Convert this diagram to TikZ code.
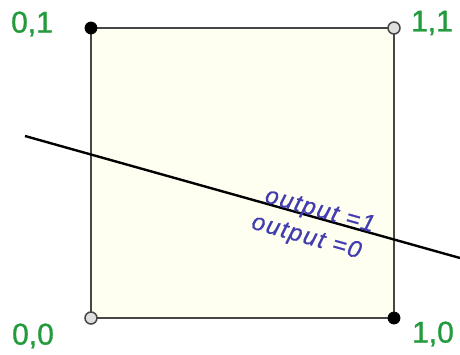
\documentclass[tikz,border=0pt]{standalone}
\usepackage{fontspec}
\setmainfont{Liberation Sans}
\definecolor{cornergreen}{RGB}{35,155,60}
\definecolor{outblue}{RGB}{65,60,175}
\definecolor{cream}{RGB}{254,254,241}
\definecolor{edgegray}{RGB}{70,70,70}
\begin{document}
\begin{tikzpicture}[x=1pt, y=-1pt,
  corner/.style={font=\fontsize{30}{30}\selectfont\addfontfeatures{FakeBold=1}, text=cornergreen, inner sep=0pt},
  outtext/.style={font=\fontsize{24}{24}\selectfont\itshape\addfontfeatures{LetterSpace=7,FakeBold=0.8}, text=outblue, inner sep=0pt, sloped, anchor=base},
  hot/.style={circle, fill=black, draw=black, line width=0.8pt, inner sep=0pt, minimum size=12pt},
  cold/.style={circle, fill=gray!25, draw=edgegray, line width=1.5pt, inner sep=0pt, minimum size=12pt}]
\useasboundingbox (0,0) rectangle (460,354);
% unit square
\coordinate (p00) at (91,318);
\coordinate (p10) at (394,318);
\coordinate (p11) at (394,28);
\coordinate (p01) at (91,28);
\draw[edgegray, line width=2pt, fill=cream] (p00) -- (p10) -- (p11) -- (p01) -- cycle;
% decision line
\coordinate (l1) at (25,136);
\coordinate (l2) at (460,258);
\draw[black, line width=2.4pt] (l1) -- (l2)
  node[outtext, pos=0.673, yshift=1pt] (out1) {output =1}
  node[outtext, pos=0.66, yshift=-28pt] (out0) {output =0};
% corner points
\node[hot] (d01) at (p01) {};
\node[cold] (d11) at (p11) {};
\node[cold] (d00) at (p00) {};
\node[hot] (d10) at (p10) {};
\node[corner] (t01) at (32,24) {0,1};
\node[corner] (t11) at (432,23) {1,1};
\node[corner] (t00) at (33,336) {0,0};
\node[corner] (t10) at (433,334) {1,0};
\end{tikzpicture}
\end{document}
